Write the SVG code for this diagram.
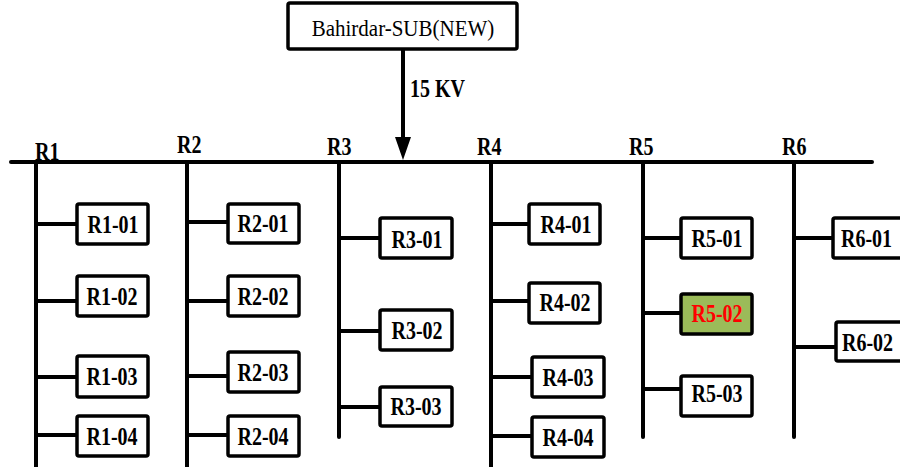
<svg xmlns="http://www.w3.org/2000/svg" width="900" height="467" viewBox="0 0 900 467">
  <style>
    .wire { stroke: #000; stroke-width: 4; fill: none; stroke-linecap: round; }
    .box { fill: #fff; stroke: #000; stroke-width: 3.5; }
    .hot { fill: #9BBB59; }
    .lbl { font-family: "Liberation Serif", "Times New Roman", serif; font-weight: bold; font-size: 20px; fill: #000; }
    .mid { text-anchor: middle; }
    .red { fill: #FF0000; }
    .src { font-family: "Liberation Serif", "Times New Roman", serif; font-size: 21px; fill: #000; text-anchor: middle; }
  </style>
  <rect width="900" height="467" fill="#fff"/>

  <!-- Source substation -->
  <g id="source">
    <rect class="box" x="288" y="3" width="229" height="46" rx="2"/>
    <text class="src" transform="translate(403,36) scale(1,1.1)">Bahirdar-SUB(NEW)</text>
  </g>

  <g id="connectors">
    <!-- Feed into the bus -->
    <line class="wire" x1="403" y1="50" x2="403" y2="140" stroke-linecap="butt"/>
    <polygon points="395,137 411,137 403,160" fill="#000"/>
    <!-- Main bus -->
    <line class="wire" x1="11" y1="162" x2="872" y2="162"/>
    <!-- Feeder drops -->
    <line class="wire" x1="36" y1="162" x2="36" y2="470"/>
    <line class="wire" x1="187" y1="162" x2="187" y2="470"/>
    <line class="wire" x1="339" y1="162" x2="339" y2="437"/>
    <line class="wire" x1="491" y1="162" x2="491" y2="470"/>
    <line class="wire" x1="643" y1="162" x2="643" y2="437"/>
    <line class="wire" x1="794" y1="162" x2="794" y2="437"/>
    <!-- R1 branches -->
    <line class="wire" x1="36" y1="224" x2="77" y2="224"/>
    <line class="wire" x1="36" y1="301" x2="77" y2="301"/>
    <line class="wire" x1="36" y1="377" x2="77" y2="377"/>
    <line class="wire" x1="36" y1="435" x2="77" y2="435"/>
    <!-- R2 branches -->
    <line class="wire" x1="187" y1="222" x2="228" y2="222"/>
    <line class="wire" x1="187" y1="301" x2="228" y2="301"/>
    <line class="wire" x1="187" y1="376" x2="228" y2="376"/>
    <line class="wire" x1="187" y1="435" x2="228" y2="435"/>
    <!-- R3 branches -->
    <line class="wire" x1="339" y1="238" x2="380" y2="238"/>
    <line class="wire" x1="339" y1="331" x2="380" y2="331"/>
    <line class="wire" x1="339" y1="407" x2="380" y2="407"/>
    <!-- R4 branches -->
    <line class="wire" x1="491" y1="224" x2="529" y2="224"/>
    <line class="wire" x1="491" y1="301" x2="529" y2="301"/>
    <line class="wire" x1="491" y1="377" x2="532" y2="377"/>
    <line class="wire" x1="491" y1="436" x2="532" y2="436"/>
    <!-- R5 branches -->
    <line class="wire" x1="643" y1="238" x2="681" y2="238"/>
    <line class="wire" x1="643" y1="313" x2="681" y2="313"/>
    <line class="wire" x1="643" y1="389" x2="681" y2="389"/>
    <!-- R6 branches -->
    <line class="wire" x1="794" y1="238" x2="833" y2="238"/>
    <line class="wire" x1="794" y1="347" x2="836" y2="347"/>
  </g>

  <text class="lbl" transform="translate(410,97) scale(1,1.28)">15 KV</text>

  <!-- Feeder names -->
  <g id="feeder-labels">
    <text class="lbl" transform="translate(35,160) scale(1,1.28)">R1</text>
    <text class="lbl" transform="translate(177,153) scale(1,1.28)">R2</text>
    <text class="lbl" transform="translate(327,155) scale(1,1.28)">R3</text>
    <text class="lbl" transform="translate(477,155) scale(1,1.28)">R4</text>
    <text class="lbl" transform="translate(629,155) scale(1,1.28)">R5</text>
    <text class="lbl" transform="translate(782,155) scale(1,1.28)">R6</text>
  </g>

  <!-- R1 -->
  <g id="R1-01"><rect class="box" x="77" y="204" width="71" height="40" rx="2"/><text class="lbl mid" transform="translate(113,233) scale(1,1.28)">R1-01</text></g>
  <g id="R1-02"><rect class="box" x="77" y="276" width="71" height="40" rx="2"/><text class="lbl mid" transform="translate(112,305) scale(1,1.28)">R1-02</text></g>
  <g id="R1-03"><rect class="box" x="77" y="356" width="71" height="41" rx="2"/><text class="lbl mid" transform="translate(112,385) scale(1,1.28)">R1-03</text></g>
  <g id="R1-04"><rect class="box" x="77" y="416" width="71" height="40" rx="2"/><text class="lbl mid" transform="translate(112,445) scale(1,1.28)">R1-04</text></g>

  <!-- R2 -->
  <g id="R2-01"><rect class="box" x="228" y="204" width="71" height="39" rx="2"/><text class="lbl mid" transform="translate(263,232) scale(1,1.28)">R2-01</text></g>
  <g id="R2-02"><rect class="box" x="228" y="276" width="71" height="40" rx="2"/><text class="lbl mid" transform="translate(263,305) scale(1,1.28)">R2-02</text></g>
  <g id="R2-03"><rect class="box" x="228" y="352" width="71" height="40" rx="2"/><text class="lbl mid" transform="translate(263,381) scale(1,1.28)">R2-03</text></g>
  <g id="R2-04"><rect class="box" x="228" y="416" width="71" height="40" rx="2"/><text class="lbl mid" transform="translate(263,445) scale(1,1.28)">R2-04</text></g>

  <!-- R3 -->
  <g id="R3-01"><rect class="box" x="380" y="218" width="72" height="40" rx="2"/><text class="lbl mid" transform="translate(417,248) scale(1,1.28)">R3-01</text></g>
  <g id="R3-02"><rect class="box" x="380" y="310" width="72" height="40" rx="2"/><text class="lbl mid" transform="translate(417,339) scale(1,1.28)">R3-02</text></g>
  <g id="R3-03"><rect class="box" x="380" y="387" width="72" height="39" rx="2"/><text class="lbl mid" transform="translate(416,415) scale(1,1.28)">R3-03</text></g>

  <!-- R4 -->
  <g id="R4-01"><rect class="box" x="529" y="204" width="71" height="40" rx="2"/><text class="lbl mid" transform="translate(566,233) scale(1,1.28)">R4-01</text></g>
  <g id="R4-02"><rect class="box" x="529" y="283" width="71" height="40" rx="2"/><text class="lbl mid" transform="translate(565,311) scale(1,1.28)">R4-02</text></g>
  <g id="R4-03"><rect class="box" x="532" y="357" width="72" height="40" rx="2"/><text class="lbl mid" transform="translate(568,386) scale(1,1.28)">R4-03</text></g>
  <g id="R4-04"><rect class="box" x="532" y="417" width="72" height="40" rx="2"/><text class="lbl mid" transform="translate(568,446) scale(1,1.28)">R4-04</text></g>

  <!-- R5 -->
  <g id="R5-01"><rect class="box" x="681" y="218" width="71" height="40" rx="2"/><text class="lbl mid" transform="translate(717,247) scale(1,1.28)">R5-01</text></g>
  <g id="R5-02"><rect class="box hot" x="681" y="294" width="71" height="40" rx="2"/><text class="lbl mid red" transform="translate(717,322) scale(1,1.28)">R5-02</text></g>
  <g id="R5-03"><rect class="box" x="681" y="376" width="71" height="40" rx="2"/><text class="lbl mid" transform="translate(717,402) scale(1,1.28)">R5-03</text></g>

  <!-- R6 -->
  <g id="R6-01"><rect class="box" x="833" y="218" width="80" height="40" rx="2"/><text class="lbl" transform="translate(841,247) scale(1,1.28)">R6-01</text></g>
  <g id="R6-02"><rect class="box" x="836" y="322" width="80" height="39" rx="2"/><text class="lbl" transform="translate(842,351) scale(1,1.28)">R6-02</text></g>
</svg>
